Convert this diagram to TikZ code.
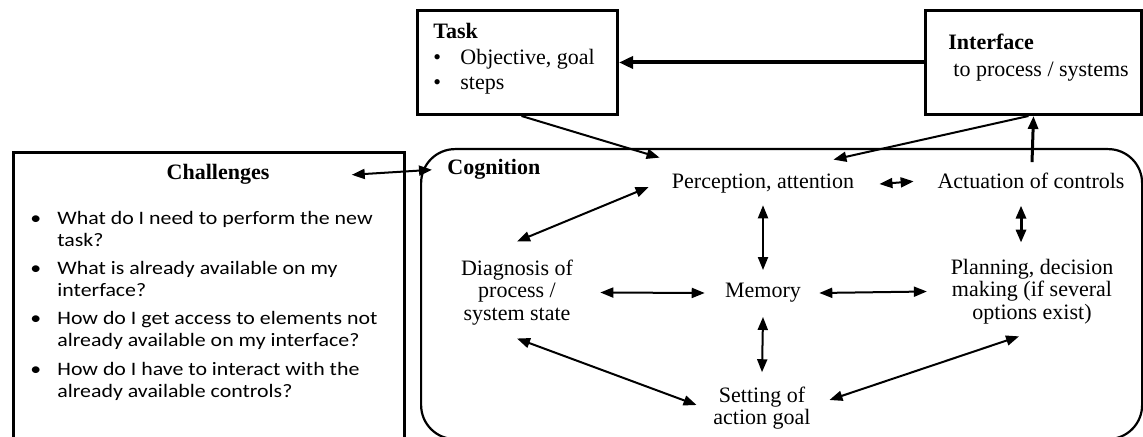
\documentclass[tikz,border=0pt]{standalone}
\usepackage{fontspec}
\setmainfont{Liberation Serif}
\newfontfamily\chalfont[FakeStretch=1.15]{Carlito}
\usetikzlibrary{arrows.meta}
\begin{document}
\begin{tikzpicture}[x=0.5pt,y=-0.5pt,
  box/.style={draw, line width=1.5pt, inner sep=0pt},
  txt/.style={inner sep=0pt, font=\fontsize{11}{11.25}\selectfont},
  btxt/.style={inner sep=0pt, font=\bfseries\fontsize{11}{11.25}\selectfont},
  ctxt/.style={txt, align=center},
  chl/.style={inner sep=0pt, anchor=base west, font=\chalfont\fontsize{9.5}{11}\selectfont},
  con/.style={line width=1pt, -{Triangle[length=6.5pt,width=5pt]}},
  dbl/.style={line width=1pt, {Triangle[length=6.5pt,width=5pt]}-{Triangle[length=6.5pt,width=5pt]}},
]
\useasboundingbox (0,0) rectangle (1143,437);

% containers
\node[box, minimum width=195.5pt, minimum height=147pt, anchor=north west] (chal) at (12,151) {};
\node[box, line width=1.1pt, rounded corners=17pt, minimum width=360.5pt, minimum height=145pt, anchor=north west] (cogbox) at (420,148) {};
\node[box, minimum width=100pt, minimum height=52pt, anchor=north west] (task) at (416,9) {};
\node[box, minimum width=108pt, minimum height=52pt, anchor=north west] (iface) at (924,9) {};

% task box text
\node[btxt, anchor=base west] (tasktitle) at (433,39) {Task};
\node[txt, anchor=base west] (tb1) at (433,64.5) {•};
\node[txt, anchor=base west] (tt1) at (460,64.5) {Objective, goal};
\node[txt, anchor=base west] (tb2) at (433,90) {•};
\node[txt, anchor=base west] (tt2) at (460,90) {steps};

% interface box text
\node[btxt, anchor=base west] (ifacetitle) at (948,50) {Interface};
\node[txt, anchor=base west] (ifacesub) at (953,77) {to process / systems};

% challenges
\node[btxt, anchor=base] (chalhead) at (218,180) {Challenges};
\node[chl] (cb1) at (30,225) {•};
\node[chl] (c1a) at (57,225) {What do I need to perform the new};
\node[chl] (c1b) at (57,247) {task?};
\node[chl] (cb2) at (30,275) {•};
\node[chl] (c2a) at (57,275) {What is already available on my};
\node[chl] (c2b) at (57,297) {interface?};
\node[chl] (cb3) at (30,325) {•};
\node[chl] (c3a) at (57,325) {How do I get access to elements not};
\node[chl] (c3b) at (57,347) {already available on my interface?};
\node[chl] (cb4) at (30,375) {•};
\node[chl] (c4a) at (57,375) {How do I have to interact with the};
\node[chl] (c4b) at (57,397) {already available controls?};

% cognition
\node[btxt, anchor=base west] (coglabel) at (447,175) {Cognition};
\node[txt, anchor=base] (perc) at (763,189) {Perception, attention};
\node[txt, anchor=base] (act) at (1031,189) {Actuation of controls};
\node[ctxt] (diag) at (517,292.5) {Diagnosis of\\process /\\system state};
\node[txt] (mem) at (763,293) {Memory};
\node[ctxt] (plan) at (1032,291.5) {Planning, decision\\making (if several\\options exist)};
\node[ctxt] (set) at (762,408) {Setting of\\action goal};

% connectors
\draw[line width=2pt, -{Triangle[length=7pt,width=6pt]}] (iface.west) -- (task.east);
\draw[con] ([xshift=2pt]task.south) -- ([xshift=-6pt,yshift=8.2pt]perc.north west);
\draw[con] ([xshift=-2.5pt]iface.south) -- ([xshift=-10.5pt,yshift=7.2pt]perc.north east);
\draw[line width=1.5pt, -{Triangle[length=6.5pt,width=5pt]}] ([xshift=0.5pt,yshift=5.5pt]act.north) -- (iface.south);
\draw[dbl] ([xshift=12.5pt]perc.east) -- ([xshift=-11.75pt]act.west);
\draw[dbl] ([xshift=-11.5pt,yshift=-1.5pt]perc.west) -- ([yshift=9pt]diag.north);
\draw[dbl] ([yshift=-5.6pt]perc.south) -- ([yshift=6.5pt]mem.north);
\draw[dbl, line width=1.5pt] ([xshift=-5pt,yshift=-8pt]act.south) -- ([xshift=-5.5pt,yshift=8pt]plan.north);
\draw[dbl] ([xshift=13.5pt]diag.east) -- ([xshift=-10pt]mem.west);
\draw[dbl] ([xshift=9pt]mem.east) -- ([xshift=-11.75pt]plan.west);
\draw[dbl] ([yshift=-7pt]mem.south) -- ([yshift=7pt]set.north);
\draw[dbl] ([yshift=-6.5pt]diag.south) -- ([xshift=-8.25pt,yshift=1.5pt]set.west);
\draw[dbl] ([xshift=9.25pt,yshift=4pt]set.east) -- ([xshift=-6.5pt,yshift=-6pt]plan.south);
\draw[dbl] ([xshift=41pt]chalhead.east) -- ([xshift=-7.5pt]coglabel.west);
\end{tikzpicture}
\end{document}
